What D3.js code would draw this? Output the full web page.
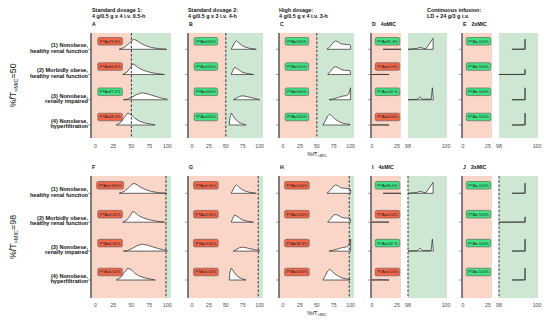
<!DOCTYPE html>
<html><head><meta charset="utf-8">
<script src="https://cdn.jsdelivr.net/npm/d3@7"></script>
<style>body{margin:0;background:#fff} svg{display:block;font-family:"Liberation Sans",Arial,Helvetica,sans-serif}</style>
</head><body><svg id="chart" width="550" height="321"></svg>
<script>
// ---------------- data ----------------
const rowLabels = [
  ["(1) Nonobese,", "healthy renal function"],
  ["(2) Morbidly obese,", "healthy renal function"],
  ["(3) Nonobese,", "renally impaired"],
  ["(4) Nonobese,", "hyperfiltration"]
];
const rowIds = ["r1", "r2", "r3", "r4"];
const xTicks = [0, 25, 50, 75, 100];
const ciLeftTicks = [0, 25];
const ciRightTicks = [98, 100];
const targets = [50, 98];
const regimenTitles = [
  ["Standard dosage 1:", "4 g/0.5 g x 4 i.v. 0.5-h"],
  ["Standard dosage 2:", "4 g/0.5 g x 3 i.v. 4-h"],
  ["High dosage:", "4 g/0.5 g x 4 i.v. 3-h"],
  ["Continuous infusion:", "LD + 24 g/3 g i.v."]
];
const panelLetters = [["A", "B", "C", "D", "E"], ["F", "G", "H", "I", "J"]];
const ciSubtitles = ["4xMIC", "2xMIC"];
const yTitleTargets = ["50", "98"];

// PTA labels (top row: target 50, bottom row: target 98)
const ptaA = ["PTA=76.8%", "PTA=86.8%", "PTA=97.2%", "PTA=38.4%"];
const ptaB = ["PTA=100%", "PTA=100%", "PTA=100%", "PTA=100%"];
const ptaC = ["PTA=100%", "PTA=100%", "PTA=100%", "PTA=100%"];
const ptaD = ["PTA=91.4%", "PTA=0.00%", "PTA=100 %", "PTA=0.00%"];
const ptaE = ["PTA= 100%", "PTA= 100%", "PTA= 100%", "PTA= 100%"];
const ptaF = ["PTA=0.600%", "PTA=0.00%", "PTA=6.60%", "PTA=0.00%"];
const ptaG = ["PTA=0.00%", "PTA=0.00%", "PTA=3.00%", "PTA=0.00%"];
const ptaH = ["PTA=4.60%", "PTA=0.00%", "PTA=38.8%", "PTA=0.00%"];
const ptaI = ["PTA=90.0%", "PTA=0.00%", "PTA=100 %", "PTA=0.00%"];
const ptaJ = ["PTA= 100%", "PTA= 100%", "PTA= 100%", "PTA= 100%"];

// density curves of %fT>MIC per population: [x, relative density]
const densA = [
  [[33,0],[40,0.15],[47,0.5],[51,0.75],[54,0.83],[58,0.7],[63,0.5],[70,0.3],[78,0.15],[88,0.05],[99,0]],
  [[38,0],[44,0.2],[49,0.6],[52,0.9],[55,0.8],[60,0.55],[67,0.35],[75,0.2],[85,0.08],[96,0]],
  [[39,0],[45,0.05],[52,0.25],[58,0.45],[65,0.58],[72,0.5],[80,0.35],[88,0.2],[95,0.1],[99,0.05],[100,0]],
  [[29,0],[35,0.2],[40,0.6],[45,1.0],[50,0.85],[55,0.55],[62,0.3],[70,0.15],[77,0.07],[83,0]]
];
const densB = [
  [[58,0],[61,0.35],[64,0.65],[66,0.7],[69,0.55],[73,0.35],[78,0.2],[85,0.08],[95,0]],
  [[58,0],[60,0.3],[63,0.6],[65,0.55],[69,0.4],[74,0.2],[80,0.1],[91,0]],
  [[61,0],[65,0.12],[70,0.28],[75,0.33],[80,0.28],[86,0.2],[92,0.12],[97,0.06],[100,0]],
  [[55,0],[56,0.6],[58,1.0],[60,0.85],[63,0.55],[68,0.28],[73,0.12],[80,0]]
];
const densC = [
  [[65,0],[70,0.25],[74,0.55],[78,0.7],[82,0.6],[86,0.45],[90,0.42],[95,0.4],[99,0.38],[100,0.3],[100,0]],
  [[66,0],[70,0.25],[74,0.55],[77,0.65],[81,0.6],[86,0.42],[91,0.35],[96,0.35],[99,0.33],[100,0]],
  [[68,0],[75,0.08],[82,0.2],[88,0.3],[94,0.35],[97,0.45],[100,1.0],[100,0]],
  [[59,0],[63,0.4],[66,0.75],[69,0.9],[73,0.7],[78,0.45],[84,0.25],[90,0.12],[99,0.05],[99,0]]
];
const densD = [
  [[11,0],[98,0],[98.5,0.08],[98.63,0.18],[98.8,0.08],[98.95,0.06],[99.32,0.92],[99.32,0]],
  [[0,0],[8,0.02],[17,0]],
  [[98,0],[98.5,0.04],[98.63,0.25],[98.75,0.04],[99.22,0.05],[99.28,1.0],[99.33,0.04],[99.33,0]],
  [[0,0],[8,0.02],[17,0]]
];
const densE = [
  [[98.68,0],[99.35,0.02],[99.37,0.85],[99.38,0]],
  [[97.9,0],[99.35,0.02],[99.37,0.45],[99.38,0]],
  [[98.68,0],[99.35,0.02],[99.37,1.0],[99.38,0]],
  [[98.68,0],[99.35,0.02],[99.37,1.0],[99.38,0]]
];

// ---------------- styles / layout ----------------
const PINK = "#FAD6C8", GREEN = "#CEE7D2";
const BOX_RED = "#F2674A", BOX_GREEN = "#40E283";
const INK = "#333333";
const svg = d3.select("#chart");

const rowBands = [
  {y0: 33, y1: 138, r0: 49.3, r1: 125, tickY: 148, titleY: 156, letterY: 25.5},
  {y0: 176, y1: 298, r0: 193.3, r1: 280, tickY: 306.5, titleY: 315, letterY: 169}
];
const fullPanels = [
  {x0: 91, x1: 171, dens: densA, pta: [ptaA, ptaF]},
  {x0: 188, x1: 263, dens: densB, pta: [ptaB, ptaG]},
  {x0: 279, x1: 354, dens: densC, pta: [ptaC, ptaH]}
];
const ciPanels = [
  {lx0: 371, lx1: 401, rx0: 408, rx1: 447, dens: densD, pta: [ptaD, ptaI]},
  {lx0: 462, lx1: 492, rx0: 499, rx1: 538, dens: densE, pta: [ptaE, ptaJ]}
];
const hScale = d3.scaleLinear().domain([0, 1]).range([0, 12]);
let clipN = 0;

function ptaValue(s) { return parseFloat(s.replace(/[^0-9.]/g, "")); }

function addClip(x0, y0, w, h) {
  const id = "clip" + (clipN++);
  svg.append("clipPath").attr("id", id).append("rect")
    .attr("x", x0).attr("y", y0).attr("width", w).attr("height", h);
  return "url(#" + id + ")";
}

function drawBox(g, cx, cy, label) {
  const ok = ptaValue(label) >= 90;
  const t = g.append("text").attr("x", cx).attr("y", cy + 1.4)
    .attr("text-anchor", "middle").attr("font-size", 3.9).attr("fill", "#222").text(label);
  const w = t.node().getComputedTextLength() + 4;
  g.insert("rect", "text").attr("x", cx - w / 2).attr("y", cy - 3.8)
    .attr("width", w).attr("height", 7.6).attr("rx", 1.5)
    .attr("fill", ok ? BOX_GREEN : BOX_RED).attr("stroke", "#555").attr("stroke-width", 0.6);
}

function drawDensities(g, x, y, dens, clip) {
  const gg = g.append("g").attr("clip-path", clip);
  dens.forEach((d, i) => {
    const yb = y(rowIds[i]);
    const area = d3.area().x(p => x(p[0])).y0(yb).y1(p => yb - hScale(p[1]));
    gg.append("path").attr("d", area(d)).attr("fill", "#fff")
      .attr("stroke", INK).attr("stroke-width", 0.75).attr("stroke-linejoin", "round");
  });
}

function leftAxis(x0, band, y) {
  svg.append("line").attr("x1", x0).attr("x2", x0).attr("y1", band.y0).attr("y2", band.y1)
    .attr("stroke", "#4d4d4d").attr("stroke-width", 1.4);
  rowIds.forEach(r => {
    svg.append("line").attr("x1", x0 - 2.8).attr("x2", x0).attr("y1", y(r)).attr("y2", y(r))
      .attr("stroke", "#4d4d4d").attr("stroke-width", 0.6);
  });
}

function tickLabels(x, ticks, band) {
  ticks.forEach(t => {
    svg.append("text").attr("x", x(t)).attr("y", band.tickY).attr("text-anchor", "middle")
      .attr("font-size", 5.2).attr("fill", "#4d4d4d").text(t);
  });
}

function dashed(x, v, band) {
  svg.append("line").attr("x1", x(v)).attr("x2", x(v)).attr("y1", band.y0).attr("y2", band.y1)
    .attr("stroke", "#222").attr("stroke-width", 0.9).attr("stroke-dasharray", "2.6,1.6");
}

rowBands.forEach((band, ri) => {
  const target = targets[ri];
  const y = d3.scalePoint().domain(rowIds).range([band.r0, band.r1]);

  // full-range panels
  fullPanels.forEach((p, pi) => {
    const x = d3.scaleLinear().domain([-6, 105]).range([p.x0, p.x1]);
    const g = svg.append("g");
    g.append("rect").attr("x", p.x0).attr("y", band.y0).attr("width", x(target) - p.x0)
      .attr("height", band.y1 - band.y0).attr("fill", PINK);
    g.append("rect").attr("x", x(target)).attr("y", band.y0).attr("width", p.x1 - x(target))
      .attr("height", band.y1 - band.y0).attr("fill", GREEN);
    drawDensities(g, x, y, p.dens, addClip(p.x0, band.y0 - 20, p.x1 - p.x0, band.y1 - band.y0 + 20));
    dashed(x, target, band);
    p.pta[ri].forEach((lab, i) => drawBox(svg.append("g"), x(20.5), y(rowIds[i]) - 8, lab));
    leftAxis(p.x0, band, y);
    tickLabels(x, xTicks, band);
    svg.append("text").attr("x", p.x0 + 1).attr("y", band.letterY).attr("font-size", 5.2)
      .attr("font-weight", "bold").attr("fill", "#111").text(panelLetters[ri][pi]);
  });

  // continuous infusion split panels
  ciPanels.forEach((p, pi) => {
    const xl = d3.scaleLinear().domain([-1, 29]).range([p.lx0, p.lx1]);
    const xr = d3.scaleLinear().domain([98, 100.05]).range([p.rx0, p.rx1]);
    const g = svg.append("g");
    [[xl, p.lx0, p.lx1], [xr, p.rx0, p.rx1]].forEach(([x, a, b]) => {
      const d0 = x.domain()[0];
      const col = d0 >= target ? GREEN : PINK;
      g.append("rect").attr("x", a).attr("y", band.y0).attr("width", b - a)
        .attr("height", band.y1 - band.y0).attr("fill", col);
      drawDensities(g, x, y, p.dens, addClip(a, band.y0 - 20, b - a, band.y1 - band.y0 + 20));
      if (target >= x.domain()[0] && target <= x.domain()[1]) dashed(x, target, band);
    });
    p.pta[ri].forEach((lab, i) => drawBox(svg.append("g"), xl(15.5), y(rowIds[i]) - 8, lab));
    leftAxis(p.lx0, band, y);
    tickLabels(xl, ciLeftTicks, band);
    tickLabels(xr, ciRightTicks, band);
    const lt = svg.append("text").attr("x", p.lx0 + 1).attr("y", band.letterY).attr("font-size", 5.2)
      .attr("font-weight", "bold").attr("fill", "#111");
    lt.append("tspan").text(panelLetters[ri][3 + pi]);
    lt.append("tspan").attr("dx", 5).text(ciSubtitles[pi]);
  });

  // row labels
  rowLabels.forEach((lines, i) => {
    const t = svg.append("text").attr("x", 88).attr("text-anchor", "end")
      .attr("font-size", 5.6).attr("font-weight", "bold").attr("fill", "#111");
    t.append("tspan").attr("x", 88).attr("y", y(rowIds[i]) - 2.2).text(lines[0]);
    t.append("tspan").attr("x", 88).attr("y", y(rowIds[i]) + 3.2).text(lines[1]);
  });

  // x-axis title
  const xt = svg.append("text").attr("x", 317).attr("y", band.titleY).attr("text-anchor", "middle")
    .attr("font-size", 5.8).attr("fill", "#222");
  xt.append("tspan").text("%");
  xt.append("tspan").attr("font-style", "italic").text("f");
  xt.append("tspan").text("T");
  xt.append("tspan").attr("font-size", 3.8).attr("dy", 1.4).text(">MIC");

  // y-axis title (rotated)
  const cy = (band.y0 + band.y1) / 2;
  const yt = svg.append("text").attr("transform", `translate(16,${cy}) rotate(-90)`)
    .attr("text-anchor", "middle").attr("font-size", 8.8).attr("fill", "#222");
  yt.append("tspan").text("%");
  yt.append("tspan").attr("font-style", "italic").text("f");
  yt.append("tspan").text("T");
  yt.append("tspan").attr("font-size", 5.6).attr("dy", 2).text(">MIC");
  yt.append("tspan").attr("dy", -2).text("=" + yTitleTargets[ri]);
});

// column titles
const titleX = [92, 188, 279, 427];
regimenTitles.forEach((lines, i) => {
  const t = svg.append("text").attr("font-size", 5.4).attr("font-weight", "bold").attr("fill", "#111");
  t.append("tspan").attr("x", titleX[i]).attr("y", 11.5).text(lines[0]);
  t.append("tspan").attr("x", titleX[i]).attr("y", 17.8).text(lines[1]);
});
</script></body></html>
